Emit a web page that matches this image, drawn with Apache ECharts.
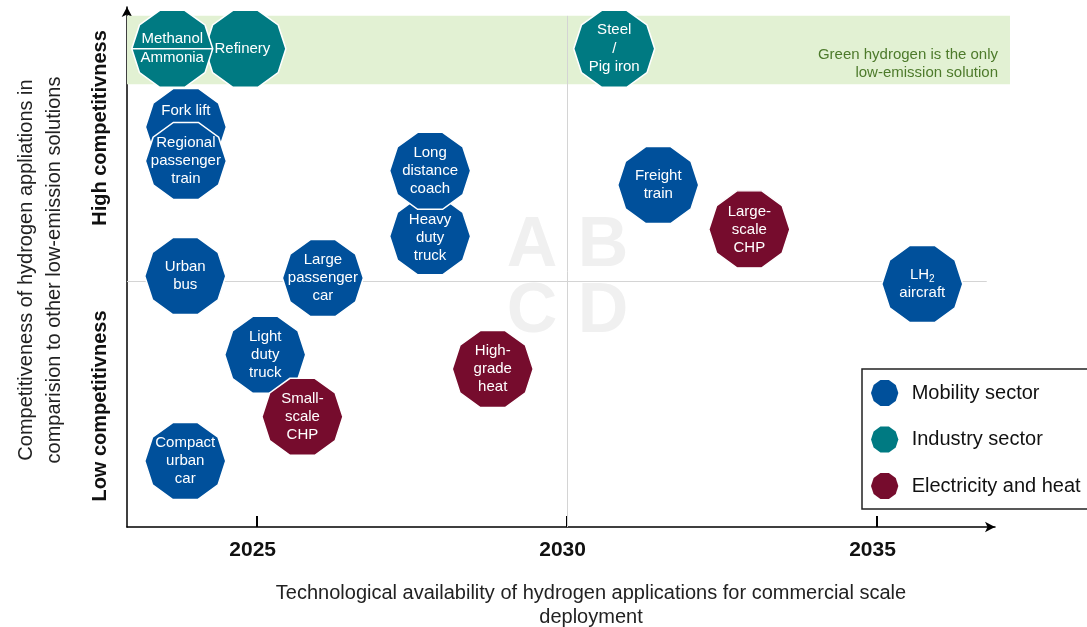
<!DOCTYPE html>
<html>
<head>
<meta charset="utf-8">
<script src="https://cdn.jsdelivr.net/npm/echarts@6/dist/echarts.min.js"></script>
<style>html,body{margin:0;padding:0;background:#fff;}#c{width:1087px;height:627px;}</style>
</head>
<body>
<div id="c"></div>
<script>
// ---- Data ----
// [label, year of availability, competitiveness score]
const mobility = [
  ['Fork lift', 2023.85, 8.13],
  ['Regional\npassenger\ntrain', 2023.85, 7.44],
  ['Heavy\nduty\ntruck', 2027.79, 5.91],
  ['Long\ndistance\ncoach', 2027.79, 7.24],
  ['Freight\ntrain', 2031.47, 6.95],
  ['LH2\naircraft', 2035.73, 4.94],
  ['Urban\nbus', 2023.84, 5.10],
  ['Large\npassenger\ncar', 2026.06, 5.06],
  ['Light\nduty\ntruck', 2025.13, 3.50],
  ['Compact\nurban\ncar', 2023.84, 1.34]
];
const industry = [
  ['Refinery', 2024.81, 9.72],
  ['Methanol\nAmmonia', 2023.63, 9.72],
  ['Steel\n/\nPig iron', 2030.76, 9.72]
];
const electricity = [
  ['Large-\nscale\nCHP', 2032.94, 6.05],
  ['Small-\nscale\nCHP', 2025.73, 2.24],
  ['High-\ngrade\nheat', 2028.80, 3.21]
];
const seriesNames = ['Mobility sector', 'Industry sector', 'Electricity and heat'];
const xTicks = [2025, 2030, 2035];
const xRange = [2022.9, 2037.145];
const yRange = [0, 10.57];
const greenBand = [9.0, 10.39];
const midX = 2030, midY = 5;
const quadrantLetters = ['A', 'B', 'C', 'D'];

// ---- Styles ----
const colors = ['#00509b', '#007a82', '#760c2d'];
const FONT = 'Liberation Sans, Arial, sans-serif';
const deca = (() => {
  const p = [];
  for (let k = 0; k < 10; k++) {
    const a = k * 36 * Math.PI / 180;
    p.push((50 + 50 * Math.cos(a)).toFixed(3) + ' ' + (50 - 50 * Math.sin(a)).toFixed(3));
  }
  return 'M' + p.join(' L') + ' Z';
})();
const decaSymbol = 'path://' + deca;
const decaSplitSymbol = 'path://' + deca + ' M0 50 L100 50';
const labelOffsets = { 'Fork lift': [0, -16], 'Heavy\nduty\ntruck': [0, 2], 'Refinery': [-3, 0] };
const lineHeights = { 'Methanol\nAmmonia': 19, 'Steel\n/\nPig iron': 18.5 };

function buildData(arr) {
  return arr.map(d => {
    const item = { name: d[0], value: [d[1], d[2]] };
    if (d[0] === 'Methanol\nAmmonia') item.symbol = decaSplitSymbol;
    const lab = {};
    if (labelOffsets[d[0]]) lab.offset = labelOffsets[d[0]];
    if (lineHeights[d[0]]) lab.lineHeight = lineHeights[d[0]];
    item.label = lab;
    return item;
  });
}

function scatter(name, arr, color) {
  return {
    name: name, type: 'scatter', xAxisIndex: 0, yAxisIndex: 0, z: 5,
    symbol: decaSymbol, symbolSize: [81, 77], symbolKeepAspect: false,
    itemStyle: { color: color, opacity: 1, borderColor: '#ffffff', borderWidth: 1.5 },
    emphasis: { disabled: true },
    label: {
      show: true, position: 'inside', color: '#ffffff', fontFamily: FONT,
      fontSize: 15, lineHeight: 18,
      formatter: p => p.name.replace('LH2', 'LH{sub|2}'),
      rich: { sub: { fontSize: 10, color: '#ffffff', fontFamily: FONT, padding: [8, 0, 0, 0] } }
    },
    data: buildData(arr)
  };
}

const chart = echarts.init(document.getElementById('c'), null, { renderer: 'canvas' });
const option = {
  backgroundColor: '#ffffff',
  animation: false,
  grid: [
    { left: 127, right: 77, top: 7, bottom: 100 },
    { left: 127, right: 92, top: 7, bottom: 100 }
  ],
  xAxis: [
    {
      type: 'value', gridIndex: 0, min: xRange[0], max: xRange[1],
      axisLine: { show: false }, splitLine: { show: false },
      axisTick: { show: true, inside: true, length: 11, customValues: xTicks, lineStyle: { color: '#000', width: 2 } },
      axisLabel: { show: true, customValues: xTicks, margin: 13, padding: [0, 9, 0, 0], color: '#111', fontFamily: FONT, fontSize: 21, fontWeight: 'bold', formatter: v => String(v) }
    },
    {
      type: 'value', gridIndex: 1, min: 0, max: 1,
      axisLine: { show: true, symbol: ['none', 'arrow'], symbolSize: [8, 10], lineStyle: { color: '#000', width: 1.5 } },
      axisTick: { show: false }, axisLabel: { show: false }, splitLine: { show: false }
    }
  ],
  yAxis: [
    {
      type: 'value', gridIndex: 0, min: yRange[0], max: yRange[1],
      axisLine: { show: true, symbol: ['none', 'arrow'], symbolSize: [8, 10], lineStyle: { color: '#000', width: 1.5 } },
      axisTick: { show: false }, axisLabel: { show: false }, splitLine: { show: false }
    },
    { type: 'value', gridIndex: 1, min: 0, max: 1, show: false }
  ],
  legend: {
    orient: 'vertical', left: 862, top: 369,
    padding: [11, 14, 10, 9], itemGap: 20.5, itemWidth: 28, itemHeight: 26,
    borderColor: '#222', borderWidth: 1.5, borderRadius: 0,
    icon: decaSymbol,
    itemStyle: { borderWidth: 0 },
    textStyle: { fontFamily: FONT, fontSize: 20, color: '#111', padding: [0, 0, 0, 8] },
    selectedMode: false,
    data: seriesNames
  },
  graphic: [
    { type: 'text', z: 1, x: 532, y: 247, style: { text: quadrantLetters[0], fill: '#f0f0f0', font: 'bold 70px ' + FONT, textAlign: 'center', textVerticalAlign: 'middle' } },
    { type: 'text', z: 1, x: 603, y: 247, style: { text: quadrantLetters[1], fill: '#f0f0f0', font: 'bold 70px ' + FONT, textAlign: 'center', textVerticalAlign: 'middle' } },
    { type: 'text', z: 1, x: 532, y: 313, style: { text: quadrantLetters[2], fill: '#f0f0f0', font: 'bold 70px ' + FONT, textAlign: 'center', textVerticalAlign: 'middle' } },
    { type: 'text', z: 1, x: 603, y: 313, style: { text: quadrantLetters[3], fill: '#f0f0f0', font: 'bold 70px ' + FONT, textAlign: 'center', textVerticalAlign: 'middle' } },
    { type: 'text', z: 10, x: 591, y: 605, style: { text: 'Technological availability of hydrogen applications for commercial scale\ndeployment', fill: '#222', font: '20px ' + FONT, lineHeight: 24, textAlign: 'center', textVerticalAlign: 'middle' } },
    { type: 'text', z: 10, x: 40, y: 270, rotation: Math.PI / 2, style: { text: 'Competitiveness of hydrogen appliations in\ncomparision to other low-emission solutions', fill: '#222', font: '20px ' + FONT, lineHeight: 28, textAlign: 'center', textVerticalAlign: 'middle' } },
    { type: 'text', z: 10, x: 100, y: 128, rotation: Math.PI / 2, style: { text: 'High competitivness', fill: '#111', font: 'bold 20px ' + FONT, textAlign: 'center', textVerticalAlign: 'middle' } },
    { type: 'text', z: 10, x: 100, y: 406, rotation: Math.PI / 2, style: { text: 'Low competitivness', fill: '#111', font: 'bold 20px ' + FONT, textAlign: 'center', textVerticalAlign: 'middle' } }
  ],
  series: [
    {
      name: 'band', type: 'line', xAxisIndex: 0, yAxisIndex: 0, data: [], z: 1, silent: true,
      markArea: {
        silent: true,
        itemStyle: { color: '#e2f1d3' },
        label: {
          show: true, position: 'insideRight', offset: [-7, 14], align: 'right',
          color: '#4d7a2b', fontFamily: FONT, fontSize: 15, lineHeight: 18
        },
        data: [[
          { name: 'Green hydrogen is the only\nlow-emission solution', coord: [xRange[0], greenBand[0]] },
          { coord: [xRange[1], greenBand[1]] }
        ]]
      }
    },
    {
      name: 'quadrants', type: 'line', xAxisIndex: 0, yAxisIndex: 0, data: [], z: 2, silent: true,
      markLine: {
        silent: true, symbol: ['none', 'none'], label: { show: false },
        lineStyle: { color: '#d4d4d4', width: 1, type: 'solid' },
        data: [
          [{ coord: [midX, yRange[0]] }, { coord: [midX, greenBand[1]] }],
          [{ coord: [xRange[0], midY] }, { coord: [2036.77, midY] }]
        ]
      }
    },
    scatter(seriesNames[0], mobility, colors[0]),
    scatter(seriesNames[1], industry, colors[1]),
    scatter(seriesNames[2], electricity, colors[2])
  ]
};
chart.setOption(option);
</script>
</body>
</html>
